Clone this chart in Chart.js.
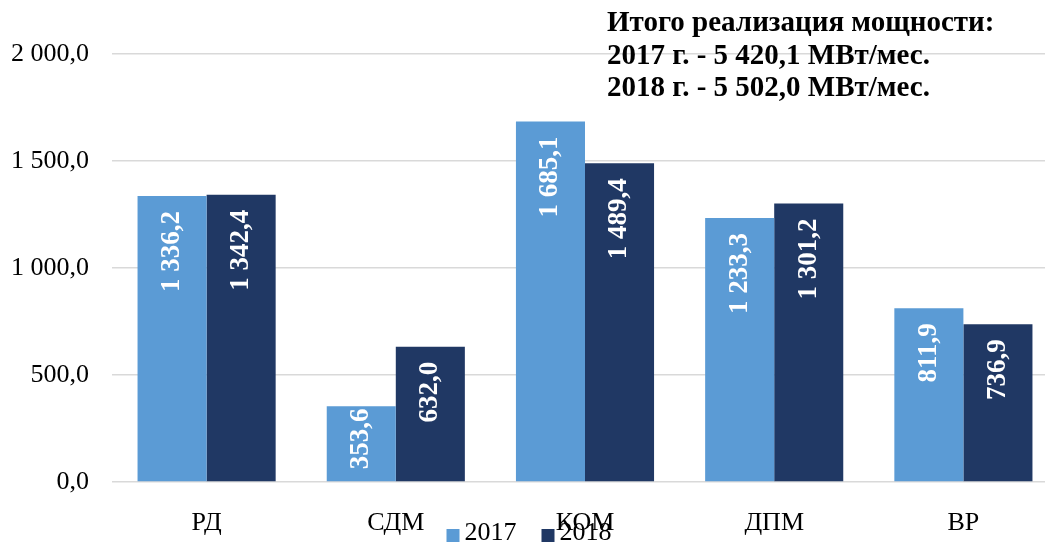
<!DOCTYPE html>
<html>
<head>
<meta charset="utf-8">
<script src="https://cdn.jsdelivr.net/npm/chart.js@4/dist/chart.umd.min.js"></script>
<style>
    html, body { margin: 0; padding: 0; overflow: hidden; background: #fff; }
    #wrap { position: relative; width: 1058px; height: 543px; }
    #totals {
        position: absolute; left: 607px; top: 5px;
        font: bold 29px 'Liberation Serif', 'Times New Roman', serif;
        line-height: 32.5px; color: #000; white-space: nowrap;
    }
</style>
</head>
<body>
<div id="wrap">
    <canvas id="chart" width="1058" height="543"></canvas>
    <div id="totals"></div>
</div>
<script>
const categories = ['РД', 'СДМ', 'КОМ', 'ДПМ', 'ВР'];
const seriesNames = ['2017', '2018'];
const values2017 = [1336.2, 353.6, 1685.1, 1233.3, 811.9];
const values2018 = [1342.4, 632.0, 1489.4, 1301.2, 736.9];
const yTicks = [0, 500, 1000, 1500, 2000];
const totalsText = [
    'Итого реализация мощности:',
    '2017 г. - 5 420,1 МВт/мес.',
    '2018 г. - 5 502,0 МВт/мес.'
];

const colors = ['#5B9BD5', '#203864'];
const serif = "'Liberation Serif', 'Times New Roman', serif";

document.getElementById('totals').innerHTML = totalsText.join('<br>');

function fmt(v) {
    let parts = v.toFixed(1).split('.');
    return parts[0].replace(/\B(?=(\d{3})+(?!\d))/g, ' ') + ',' + parts[1];
}

// white vertical labels inside the bars
const barLabels = {
    id: 'barLabels',
    afterDatasetsDraw(chart) {
        const ctx = chart.ctx;
        ctx.save();
        ctx.font = 'bold 27px ' + serif;
        ctx.fillStyle = '#fff';
        ctx.textAlign = 'right';
        ctx.textBaseline = 'middle';
        chart.data.datasets.forEach((ds, i) => {
            chart.getDatasetMeta(i).data.forEach((bar, j) => {
                const text = fmt(ds.data[j]);
                const w = ctx.measureText(text).width;
                let off = Math.min(15, (bar.base - bar.y) - w - 12);
                if (off < 2) off = 2;
                ctx.save();
                ctx.translate(bar.x, bar.y + off);
                ctx.rotate(-Math.PI / 2);
                ctx.fillText(text, 0, 0);
                ctx.restore();
            });
        });
        ctx.restore();
    }
};

// legend drawn under the axis labels
const bottomLegend = {
    id: 'bottomLegend',
    afterDraw(chart) {
        const ctx = chart.ctx;
        ctx.save();
        ctx.font = '26px ' + serif;
        ctx.textBaseline = 'alphabetic';
        const items = chart.data.datasets.map(ds => ({
            label: ds.label, color: ds.backgroundColor,
            w: ctx.measureText(ds.label).width
        }));
        let total = 0;
        items.forEach((it, k) => { total += 13 + 5 + it.w + (k > 0 ? 25 : 0); });
        let x = chart.width / 2 - total / 2;
        items.forEach((it) => {
            ctx.fillStyle = it.color;
            ctx.fillRect(x, 529, 13, 13);
            ctx.fillStyle = '#000';
            ctx.fillText(it.label, x + 18, 540);
            x += 18 + it.w + 25;
        });
        ctx.restore();
    }
};

new Chart(document.getElementById('chart'), {
    type: 'bar',
    data: {
        labels: categories,
        datasets: [{
            label: seriesNames[0],
            data: values2017,
            backgroundColor: colors[0]
        }, {
            label: seriesNames[1],
            data: values2018,
            backgroundColor: colors[1]
        }]
    },
    options: {
        responsive: false,
        animation: false,
        layout: { padding: { top: 54, left: 0, right: 0, bottom: 0 } },
        barPercentage: 1,
        categoryPercentage: 0.73,
        scales: {
            x: {
                grid: { display: false },
                border: { display: false },
                ticks: { color: '#000', padding: 18, font: { family: serif, size: 26 } },
                afterFit(scale) { scale.height = 61; }
            },
            y: {
                min: 0,
                max: 2000,
                afterBuildTicks(scale) { scale.ticks = yTicks.map(v => ({ value: v })); },
                grid: { color: '#D9D9D9', lineWidth: 1.5, drawTicks: false },
                border: { display: false },
                ticks: {
                    color: '#000', padding: 23,
                    font: { family: serif, size: 26 },
                    callback: (v) => fmt(v)
                },
                afterFit(scale) { scale.width = 112; }
            }
        },
        plugins: {
            legend: { display: false },
            tooltip: { enabled: false }
        }
    },
    plugins: [barLabels, bottomLegend]
});
</script>
</body>
</html>
